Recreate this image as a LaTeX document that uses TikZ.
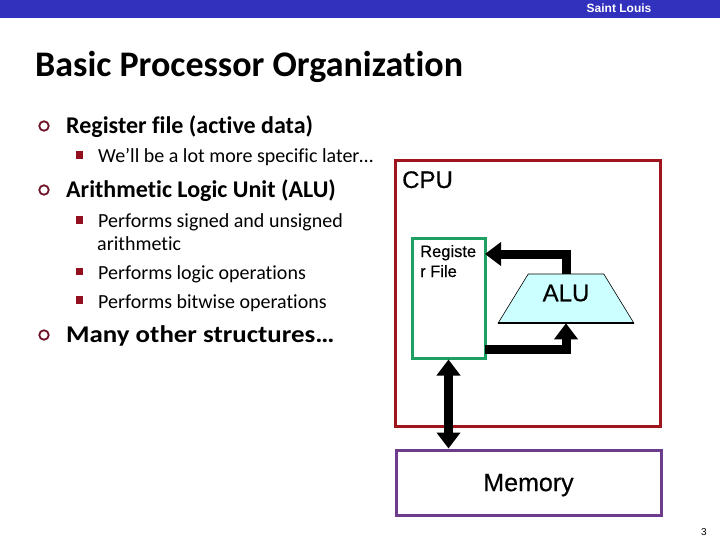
\documentclass[tikz,border=0pt]{standalone}
\usepackage{fontspec}
\setmainfont{Carlito}[Ligatures=NoCommon]
\newfontfamily\arialfont{Liberation Sans}
\newfontfamily\arialheavy{Liberation Sans}[FakeBold=0.4]
\usetikzlibrary{arrows.meta,shapes.geometric}
\definecolor{barblue}{RGB}{49,49,190}
\definecolor{cpured}{RGB}{160,20,30}
\definecolor{rfgreen}{RGB}{30,160,100}
\definecolor{memviolet}{RGB}{110,60,140}
\definecolor{alucyan}{RGB}{204,255,255}
\definecolor{ringred}{RGB}{110,20,40}
\definecolor{squarered}{RGB}{145,15,30}
\tikzset{
    block/.style={draw, line width=3pt, fill=none, inner sep=0pt},
    bus/.style={line width=9pt, draw=black},
    head/.style={-{Triangle[width=23pt,length=16pt]}},
    main/.style={anchor=base west, inner sep=0pt, font=\bfseries\fontsize{24}{26}\selectfont},
    sub/.style={anchor=base west, inner sep=0pt, font=\fontsize{20}{22}\selectfont},
    ring/.style={circle, draw=ringred, line width=1.8pt, minimum size=9.5pt, inner sep=0pt},
    square/.style={fill=squarered, minimum width=6.5pt, minimum height=7.5pt, inner sep=0pt},
}
\begin{document}
\begin{tikzpicture}[x=1pt, y=-1pt]
\useasboundingbox (0,0) rectangle (720,540);

% Header bar and page number
\fill[barblue] (0,0) rectangle (720,18);
\node[text=white, inner sep=0pt, font=\arialfont\bfseries\fontsize{12}{14}\selectfont] (place) at (619,8) {Saint Louis};
\node[anchor=base, inner sep=0pt, font=\arialfont\fontsize{10}{12}\selectfont] (page) at (704,535) {3};

% Title
\node[anchor=base west, inner sep=0pt, font=\bfseries\fontsize{36}{38}\selectfont] (title) at (35,77) {Basic Processor Organization};

% Bullets and text on the left
\foreach \y in {126,190,335} {
    \node[ring] (ring\y) at (44,\y) {};
}
\foreach \y in {155,220,271.5,300} {
    \node[square] (square\y) at (79.5,\y) {};
}
\node[main] (regline) at (66,134) {Register file (active data)};
\node[sub] (later) at (98,163) {We’ll be a lot more specific later…};
\node[main] (alyline) at (66,197) {Arithmetic Logic Unit (ALU)};
\node[sub] (signed) at (98,227) {Performs signed and unsigned};
\node[sub] (arith) at (97,251) {arithmetic};
\node[sub] (logic) at (98,279) {Performs logic operations};
\node[sub] (bitwise) at (98,308) {Performs bitwise operations};
\node[main, font=\bfseries\fontsize{24}{26}\selectfont\addfontfeature{FakeStretch=1.12}] (many) at (66,342) {Many other structures…};

% Blocks
\node[block, draw=cpured, minimum width=265pt, minimum height=265pt] (cpu) at (527.5,293.5) {};
\node[anchor=base west, inner sep=0pt, font=\arialheavy\fontsize{24}{26}\selectfont] (cputext) at (402,188) {CPU};
\node[block, draw=rfgreen, minimum width=73pt, minimum height=120pt] (regfile) at (448.5,298) {};
\node[anchor=base west, inner sep=0pt, align=left, font=\arialheavy\fontsize{16.5}{20}\selectfont] (regtext) at (420,277) {Registe\\r File};
\node[trapezium, trapezium stretches=true, trapezium angle=56, draw=black, line width=0.6pt, fill=alucyan,
      minimum width=136pt, minimum height=49pt, inner sep=0pt, text depth=11pt,
      font=\arialheavy\fontsize{24}{26}\selectfont] (alu) at (566,298.5) {ALU};
\draw[line width=2pt] (alu.bottom left corner) -- (alu.bottom right corner);
\node[block, draw=memviolet, minimum width=265pt, minimum height=65pt, text depth=0pt,
      font=\arialheavy\fontsize{25}{27}\selectfont] (memory) at (528.5,482.5) {Memory};

% Buses
\coordinate (rfin) at (485,254);
\coordinate (rfout) at (485,349);
\draw[bus, head] (alu.north) |- (rfin);
\draw[bus, head] (rfout) -| (alu.south);
\draw[bus, {Triangle[width=23pt,length=16pt]}-{Triangle[width=23pt,length=16pt]}] (regfile.south) -- (regfile.south |- memory.north);
\end{tikzpicture}
\end{document}
